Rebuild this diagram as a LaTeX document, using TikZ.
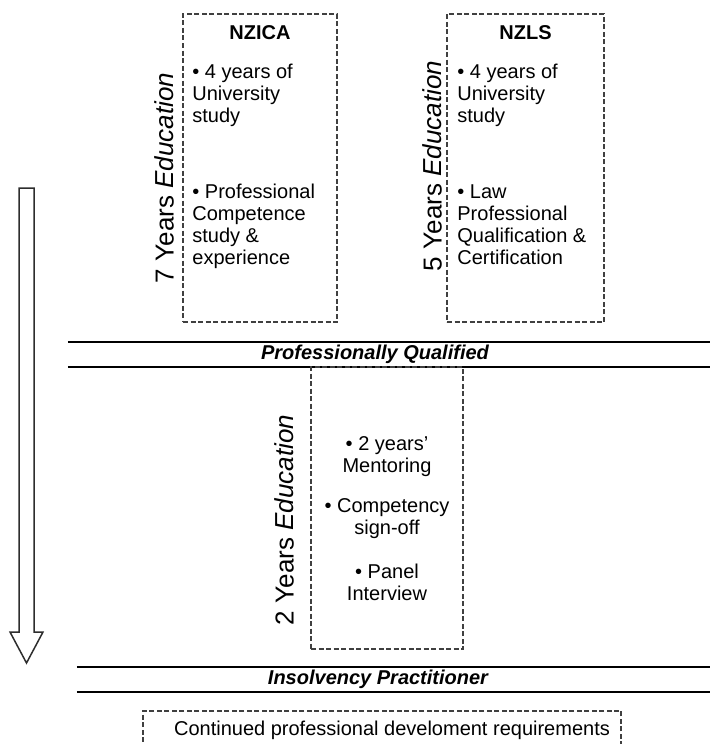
\documentclass[tikz,border=0pt]{standalone}
\usepackage{fontspec}
\setmainfont{Liberation Sans}
\usepackage{tikz}
\usetikzlibrary{shapes, arrows, positioning}
\definecolor{boxgrey}{RGB}{64, 64, 64}
\definecolor{arrowgrey}{RGB}{45, 45, 45}

\begin{document}
\begin{tikzpicture}[x=1pt, y=-1pt, every node/.style={align=center, inner sep=0pt},
        dbox/.style={draw=boxgrey, line width=1.6pt, dash pattern=on 5pt off 2.5pt},
        body/.style={font=\fontsize{20}{22}\selectfont},
        head/.style={font=\fontsize{20}{22}\selectfont\bfseries},
        item/.style={body, align=left, anchor=north west},
        years/.style={font=\fontsize{26}{28}\selectfont, rotate=90, anchor=south},
        band/.style={minimum height=25pt},
        bandline/.style={line width=2pt},
        bandtext/.style={font=\fontsize{20}{22}\selectfont\bfseries\itshape}]
        \useasboundingbox (0,0) rectangle (710,744);
        \clip (0,0) rectangle (710,744);

        % routes to qualification
        \node[dbox, minimum width=154pt, minimum height=308pt] (nzica) at (260,168) {};
        \node[dbox, minimum width=157pt, minimum height=308pt] (nzls) at (525.5,168) {};
        \node[head, below=12pt of nzica.north] (nzicatitle) {NZICA};
        \node[head, below=12pt of nzls.north] (nzlstitle) {NZLS};
        \node[item] (nzicaa) at ([xshift=10pt, yshift=-51pt]nzica.north west) {• 4 years of\\University\\study};
        \node[item] (nzicab) at ([xshift=10pt, yshift=-171pt]nzica.north west) {• Professional\\Competence\\study \&\\experience};
        \node[item] (nzlsa) at ([xshift=11pt, yshift=-51pt]nzls.north west) {• 4 years of\\University\\study};
        \node[item] (nzlsb) at ([xshift=11pt, yshift=-171pt]nzls.north west) {• Law\\Professional\\Qualification \&\\Certification};
        \node[years] (nzicayears) at ([xshift=-8pt, yshift=-10pt]nzica.west) {7 Years \textit{Education}};
        \node[years] (nzlsyears) at ([xshift=-4pt, yshift=2pt]nzls.west) {5 Years \textit{Education}};

        \node[band, minimum width=642pt] (pqband) at (389,354.5) {};
        \draw[bandline] (pqband.north west) -- (pqband.north east);
        \draw[bandline] (pqband.south west) -- (pqband.south east);
        \node[bandtext] (pq) at ([xshift=-14pt]pqband.center) {Professionally Qualified};

        % practitioner stage
        \node[dbox, minimum width=152pt, minimum height=282pt] (ip) at (387,508) {};
        \node[body] (ipa) at ([yshift=-90pt]ip.north) {• 2 years'\\Mentoring};
        \node[body] (ipb) at ([yshift=-152pt]ip.north) {• Competency\\sign-off};
        \node[body] (ipc) at ([yshift=-216pt]ip.north) {• Panel\\Interview};
        \node[years] (ipyears) at ([xshift=-16pt, yshift=-12pt]ip.west) {2 Years \textit{Education}};

        \node[band, minimum width=633pt] (ipband) at (393.5,679.5) {};
        \draw[bandline] (ipband.north west) -- (ipband.north east);
        \draw[bandline] (ipband.south west) -- (ipband.south east);
        \node[bandtext] (ipname) at ([xshift=-15.5pt]ipband.center) {Insolvency Practitioner};

        \node[dbox, minimum width=478pt, minimum height=60pt, anchor=north] (cpd) at (382,710) {};
        \node[body] (cpdtext) at ([xshift=10pt, yshift=-20pt]cpd.north) {Continued professional develoment requirements};

        % time arrow
        \draw[draw=arrowgrey, line width=1.5pt, line join=miter] (19,188) -- (34,188) -- (34,632) -- (43,632)
            -- (26.5,663) -- (10,632) -- (19,632) -- cycle;
    \end{tikzpicture}
\end{document}
